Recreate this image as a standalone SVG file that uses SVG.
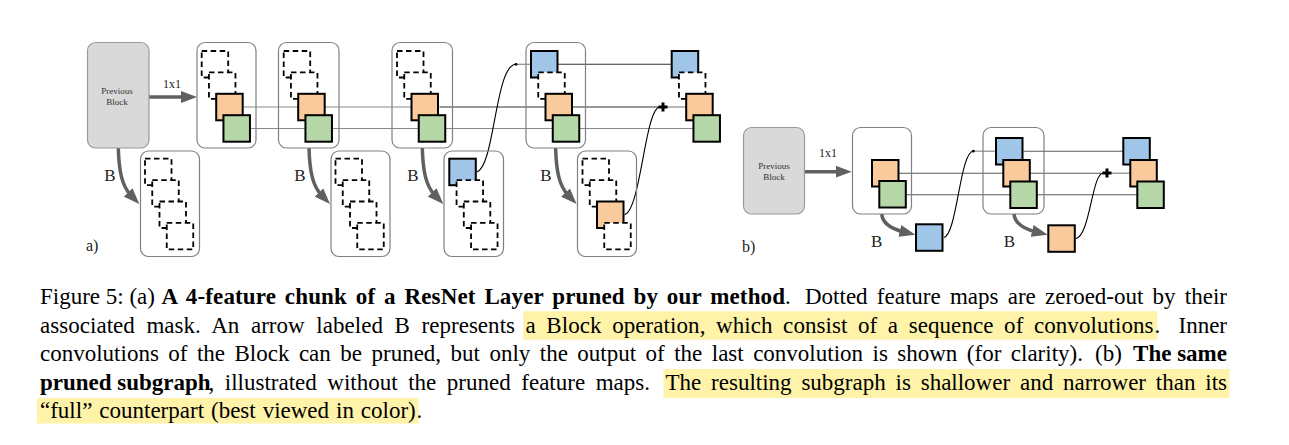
<svg xmlns="http://www.w3.org/2000/svg" width="1289" height="445" viewBox="0 0 1289 445">
<style>
.box{fill:none;stroke:#808080;stroke-width:1.2}
.prev{fill:#d9d9d9;stroke:#9a9a9a;stroke-width:1.2}
.sq{stroke:#000;stroke-width:2}
.d{fill:#fff;stroke:#000;stroke-width:1.8;stroke-dasharray:5.5 3.5}
.bl{fill:#9fc5e8}
.or{fill:#f9cb9c}
.gr{fill:#b6d7a8}
.ln{fill:none;stroke:#8a8a8a;stroke-width:1.2}
.lnm{fill:none;stroke:#5a5a5a;stroke-width:1.1}
.lnd{fill:none;stroke:#333;stroke-width:1.1}
.cv{fill:none;stroke:#000;stroke-width:1.1}
.arr{fill:none;stroke:#606060;stroke-width:3.5;marker-end:url(#ah)}
.plus{fill:none;stroke:#000;stroke-width:3}
.lbl{font-family:"Liberation Serif",serif;fill:#222}
.pt{font-family:"Liberation Serif",serif;font-size:9px;fill:#333;text-anchor:middle}
.cap{font-family:"Liberation Serif",serif;font-size:23px;fill:#000}
.b{font-weight:bold}
.hl{fill:#fef3a9}
</style>
<defs>
<marker id="ah" markerUnits="userSpaceOnUse" markerWidth="16" markerHeight="12" refX="4" refY="6" orient="auto"><path d="M0,0 L16,6 L0,12 z" fill="#606060"/></marker>
</defs>

<g id="connectors">
<path class="arr" d="M149,97 H185"/>
<path class="arr" d="M118.3,148 C119,172 122,186 131,195.4"/>
<path class="arr" d="M309,148 C309.7,172 312.7,186 321.7,195.4"/>
<path class="arr" d="M422.3,148 C423,172 426,186 435,195.4"/>
<path class="arr" d="M555.6,148 C556.3,172 559.3,186 568.3,195.4"/>
<path class="ln" d="M243.7,107 H440"/>
<path class="lnd" d="M440,107 H659"/>
<path class="ln" d="M667,107 H686"/>
<path class="ln" d="M251,128.5 H693"/>
<path class="ln" d="M516,64.3 H531"/>
<path class="lnd" d="M558,64.3 H672"/>
<circle cx="516" cy="64.3" r="1.4" fill="#000"/>
<path class="cv" d="M476.8,172 C495,166 495,64.3 516,64.3"/>
<path class="cv" d="M624.5,214.7 C641,210 645,107 660,107"/>
<path class="plus" d="M658.5,107 H667.5 M663,102.5 V111.5"/>
<path class="arr" d="M804.3,171.7 H839.7"/>
<path class="arr" d="M881.7,214 C882.5,223 890,228.5 903.7,231.9"/>
<path class="arr" d="M1014,214 C1014.8,223 1022.3,228.5 1036,231.9"/>
<path class="lnm" d="M899,173.2 H1103"/>
<path class="ln" d="M1111,173.2 H1131"/>
<path class="lnm" d="M906,194.7 H1137"/>
<path class="ln" d="M973.3,151.2 H996"/>
<path class="lnm" d="M1023.5,151.2 H1123"/>
<circle cx="973.3" cy="151.2" r="1.4" fill="#000"/>
<path class="cv" d="M943.8,237.5 C957,235 960,151.2 973.3,151.2"/>
<path class="cv" d="M1075.8,238.5 C1090,236 1092,173.2 1103,173.2"/>
<path class="plus" d="M1102.5,173 H1111.5 M1107,168.5 V177.5"/>
</g>

<g id="labels">
<text class="lbl" x="172" y="88" font-size="12" text-anchor="middle">1x1</text>
<text class="lbl" x="110" y="180.5" font-size="17" text-anchor="middle">B</text>
<text class="lbl" x="300" y="180.5" font-size="17" text-anchor="middle">B</text>
<text class="lbl" x="413" y="180.5" font-size="17" text-anchor="middle">B</text>
<text class="lbl" x="546" y="180.5" font-size="17" text-anchor="middle">B</text>
<text class="lbl" x="86" y="251" font-size="16" fill="#000">a)</text>
<text class="lbl" x="828" y="156.5" font-size="12" text-anchor="middle">1x1</text>
<text class="lbl" x="876.7" y="246.7" font-size="17" text-anchor="middle">B</text>
<text class="lbl" x="1009.3" y="246.7" font-size="17" text-anchor="middle">B</text>
<text class="lbl" x="742" y="251.5" font-size="16" fill="#000">b)</text>
</g>

<g id="prev-a">
<rect class="prev" x="87.5" y="42.5" width="61.5" height="105.5" rx="8"/>
<text class="pt" x="117" y="93.5">Previous</text>
<text class="pt" x="117" y="105">Block</text>
</g>
<g id="a-top1">
<rect class="box" x="197" y="42.5" width="59" height="105.5" rx="8"/>
<rect class="d" x="201.7" y="51" width="26.5" height="26.5"/>
<rect class="d" x="208.95" y="72.4" width="26.5" height="26.5"/>
<rect class="sq or" x="216.2" y="93.8" width="26.5" height="26.5"/>
<rect class="sq gr" x="223.45" y="115.2" width="26.5" height="26.5"/>
</g>
<g id="a-bot1">
<rect class="box" x="140.5" y="151" width="59" height="105.5" rx="8"/>
<rect class="d" x="145" y="158.7" width="26.5" height="26.5"/>
<rect class="d" x="152.25" y="180.1" width="26.5" height="26.5"/>
<rect class="d" x="159.5" y="201.5" width="26.5" height="26.5"/>
<rect class="d" x="166.75" y="222.9" width="26.5" height="26.5"/>
</g>
<g id="a-top2">
<rect class="box" x="278.5" y="42.5" width="60.5" height="105.5" rx="8"/>
<rect class="d" x="283.7" y="51" width="26.5" height="26.5"/>
<rect class="d" x="290.95" y="72.4" width="26.5" height="26.5"/>
<rect class="sq or" x="298.2" y="93.8" width="26.5" height="26.5"/>
<rect class="sq gr" x="305.45" y="115.2" width="26.5" height="26.5"/>
</g>
<g id="a-bot2">
<rect class="box" x="331" y="151" width="59" height="105.5" rx="8"/>
<rect class="d" x="335.5" y="158.7" width="26.5" height="26.5"/>
<rect class="d" x="342.75" y="180.1" width="26.5" height="26.5"/>
<rect class="d" x="350" y="201.5" width="26.5" height="26.5"/>
<rect class="d" x="357.25" y="222.9" width="26.5" height="26.5"/>
</g>
<g id="a-top3">
<rect class="box" x="392" y="42.5" width="60.5" height="105.5" rx="8"/>
<rect class="d" x="397" y="51" width="26.5" height="26.5"/>
<rect class="d" x="404.25" y="72.4" width="26.5" height="26.5"/>
<rect class="sq or" x="411.5" y="93.8" width="26.5" height="26.5"/>
<rect class="sq gr" x="418.75" y="115.2" width="26.5" height="26.5"/>
</g>
<g id="a-bot3">
<rect class="box" x="444" y="151" width="59.5" height="105.5" rx="8"/>
<rect class="sq bl" x="449.3" y="158.7" width="26.5" height="26.5"/>
<rect class="d" x="456.55" y="180.1" width="26.5" height="26.5"/>
<rect class="d" x="463.8" y="201.5" width="26.5" height="26.5"/>
<rect class="d" x="471.05" y="222.9" width="26.5" height="26.5"/>
</g>
<g id="a-top4">
<rect class="box" x="526" y="42.5" width="59.5" height="105.5" rx="8"/>
<rect class="sq bl" x="531" y="51" width="26.5" height="26.5"/>
<rect class="d" x="538.25" y="72.4" width="26.5" height="26.5"/>
<rect class="sq or" x="545.5" y="93.8" width="26.5" height="26.5"/>
<rect class="sq gr" x="552.75" y="115.2" width="26.5" height="26.5"/>
</g>
<g id="a-bot4">
<rect class="box" x="577.5" y="151" width="59" height="105.5" rx="8"/>
<rect class="d" x="582.5" y="158.7" width="26.5" height="26.5"/>
<rect class="d" x="589.75" y="180.1" width="26.5" height="26.5"/>
<rect class="sq or" x="597" y="201.5" width="26.5" height="26.5"/>
<rect class="d" x="604.25" y="222.9" width="26.5" height="26.5"/>
</g>
<g id="a-out">
<rect class="sq bl" x="671.7" y="51" width="26.5" height="26.5"/>
<rect class="d" x="678.95" y="72.4" width="26.5" height="26.5"/>
<rect class="sq or" x="686.2" y="93.8" width="26.5" height="26.5"/>
<rect class="sq gr" x="693.45" y="115.2" width="26.5" height="26.5"/>
</g>

<g id="prev-b">
<rect class="prev" x="743.5" y="127.5" width="61" height="86.5" rx="8"/>
<text class="pt" x="774" y="168.5">Previous</text>
<text class="pt" x="774" y="180">Block</text>
</g>
<g id="b-box1">
<rect class="box" x="852.5" y="127.5" width="59" height="86.5" rx="8"/>
<rect class="sq or" x="872" y="160" width="26.5" height="26.5"/>
<rect class="sq gr" x="879.3" y="181" width="26.5" height="26.5"/>
</g>
<g id="b-blue">
<rect class="sq bl" x="916" y="224.3" width="26.5" height="26.5"/>
</g>
<g id="b-box2">
<rect class="box" x="983" y="127.5" width="61" height="86.5" rx="8"/>
<rect class="sq bl" x="996" y="138" width="26.5" height="26.5"/>
<rect class="sq or" x="1003.3" y="160" width="26.5" height="26.5"/>
<rect class="sq gr" x="1010.3" y="181.5" width="26.5" height="26.5"/>
</g>
<g id="b-orange">
<rect class="sq or" x="1048.3" y="225.3" width="26.5" height="26.5"/>
</g>
<g id="b-out">
<rect class="sq bl" x="1123.3" y="138" width="26.5" height="26.5"/>
<rect class="sq or" x="1130.3" y="160" width="26.5" height="26.5"/>
<rect class="sq gr" x="1137.3" y="181.5" width="26.5" height="26.5"/>
</g>

<g id="caption">
<rect class="hl" x="523.3" y="311.3" width="634" height="28.4"/>
<rect class="hl" x="663.5" y="369" width="566" height="29"/>
<rect class="hl" x="37" y="398" width="381.5" height="25.5"/>
<text class="cap" x="40" y="304">Figure 5: (a)</text>
<text class="cap b" x="161.5" y="304" word-spacing="2.9" textLength="623.5" lengthAdjust="spacing">A 4-feature chunk of a ResNet Layer pruned by our method</text>
<text class="cap" x="785" y="304">.</text>
<text class="cap" x="805" y="304" word-spacing="3.5" textLength="422" lengthAdjust="spacing">Dotted feature maps are zeroed-out by their</text>
<text class="cap" x="40" y="332.5" word-spacing="5.8" textLength="475" lengthAdjust="spacing">associated mask. An arrow labeled B represents</text>
<text class="cap" x="525.5" y="332.5" word-spacing="4.7" textLength="628" lengthAdjust="spacing">a Block operation, which consist of a sequence of convolutions</text>
<text class="cap" x="1154.5" y="332.5">.</text>
<text class="cap" x="1227" y="332.5" text-anchor="end">Inner</text>
<text class="cap" x="40" y="361" word-spacing="3.7" textLength="1043" lengthAdjust="spacing">convolutions of the Block can be pruned, but only the output of the last convolution is shown (for clarity).</text>
<text class="cap" x="1095" y="361">(b)</text>
<text class="cap b" x="1227" y="361" text-anchor="end">The same</text>
<text class="cap b" x="40" y="389.5">pruned subgraph</text>
<text class="cap" x="208.5" y="389.5" word-spacing="4.8" textLength="441.5" lengthAdjust="spacing">, illustrated without the pruned feature maps.</text>
<text class="cap" x="665.5" y="389.5" word-spacing="4.1" textLength="561.5" lengthAdjust="spacing">The resulting subgraph is shallower and narrower than its</text>
<text class="cap" x="40" y="418" word-spacing="1.2">“full” counterpart (best viewed in color)</text>
<text class="cap" x="416.5" y="418">.</text>
</g>
</svg>
